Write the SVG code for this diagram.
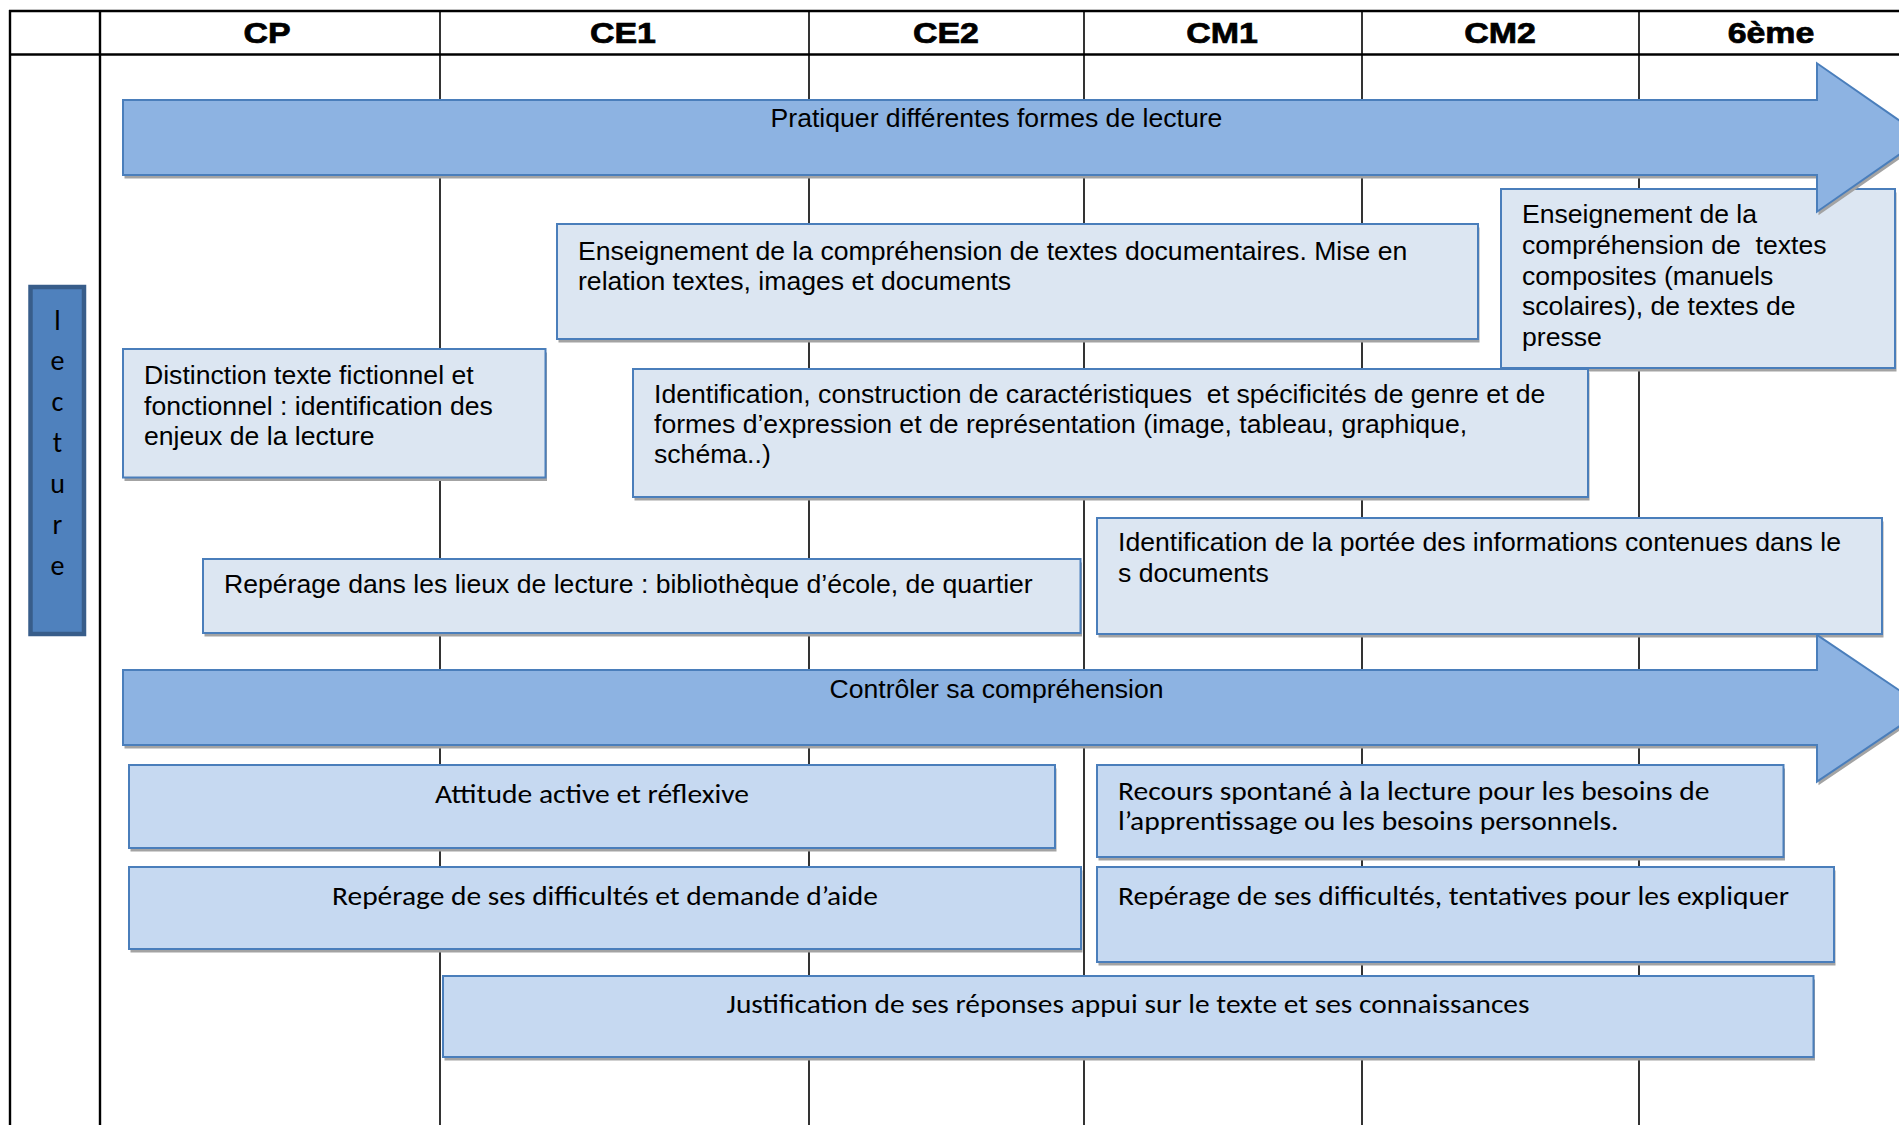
<svg xmlns="http://www.w3.org/2000/svg" width="1899" height="1125" viewBox="0 0 1899 1125">
<style>
.gl{stroke:#000;stroke-width:1.6;fill:none}
.gb{stroke:#000;stroke-width:2.4;fill:none}
.hd{font-family:"Liberation Sans",Arial,sans-serif;font-weight:bold;font-size:29px;text-anchor:middle;fill:#000;stroke:#000;stroke-width:0.7}
.up{fill:#DCE6F2;stroke:#4A7EBB;stroke-width:2}
.lo{fill:#C6D9F1;stroke:#4A7EBB;stroke-width:2}
.arr{fill:#8DB3E2;stroke:#4A7EBB;stroke-width:2;stroke-linejoin:miter}
.sh{fill:#A3A3A3}
.t{font-family:"Liberation Sans",Arial,sans-serif;font-size:26.6px;fill:#000;white-space:pre}
.tm{text-anchor:middle}
.c{font-family:Carlito,Lato,"Open Sans",sans-serif;font-size:27px;fill:#000;white-space:pre}
.lec{font-family:Carlito,Lato,"Open Sans",sans-serif;font-size:28px;fill:#000;text-anchor:middle}
</style>

<g id="grid">
  <line class="gb" x1="9" y1="11" x2="1899" y2="11"/>
  <line class="gb" x1="9" y1="54.5" x2="1899" y2="54.5"/>
  <line class="gb" x1="10" y1="10" x2="10" y2="1125"/>
  <line class="gb" x1="100" y1="10" x2="100" y2="1125"/>
  <line class="gl" x1="440" y1="10" x2="440" y2="1125"/>
  <line class="gl" x1="809" y1="10" x2="809" y2="1125"/>
  <line class="gl" x1="1084" y1="10" x2="1084" y2="1125"/>
  <line class="gl" x1="1362" y1="10" x2="1362" y2="1125"/>
  <line class="gl" x1="1639" y1="10" x2="1639" y2="1125"/>
</g>

<g id="headers">
  <text class="hd" transform="translate(267,43) scale(1.17,1)">CP</text>
  <text class="hd" transform="translate(623,43) scale(1.17,1)">CE1</text>
  <text class="hd" transform="translate(946,43) scale(1.17,1)">CE2</text>
  <text class="hd" transform="translate(1222,43) scale(1.17,1)">CM1</text>
  <text class="hd" transform="translate(1500,43) scale(1.17,1)">CM2</text>
  <text class="hd" transform="translate(1771,43) scale(1.17,1)">6ème</text>
</g>

<g id="lecture">
  <rect x="30.5" y="287" width="53.5" height="347" fill="#4F81BD" stroke="#385D8A" stroke-width="4.5"/>
  <text class="lec" x="57.5" y="330">l</text>
  <text class="lec" x="57.5" y="370">e</text>
  <text class="lec" x="57.5" y="411">c</text>
  <text class="lec" x="57.5" y="452">t</text>
  <text class="lec" x="57.5" y="493">u</text>
  <text class="lec" x="57.5" y="534">r</text>
  <text class="lec" x="57.5" y="575">e</text>
</g>

<g id="box-documentaires">
  <rect class="sh" x="558.5" y="227.5" width="921" height="115"/>
  <rect class="up" x="557" y="224" width="921" height="115"/>
  <text class="t" x="578" y="260">Enseignement de la compréhension de textes documentaires. Mise en</text>
  <text class="t" x="578" y="290">relation textes, images et documents</text>
</g>

<g id="box-composites">
  <rect class="sh" x="1502.5" y="192.5" width="394" height="179"/>
  <rect class="up" x="1501" y="189" width="394" height="179"/>
  <text class="t" x="1522" y="223">Enseignement de la</text>
  <text class="t" x="1522" y="254">compréhension de  textes</text>
  <text class="t" x="1522" y="284.5">composites (manuels</text>
  <text class="t" x="1522" y="315">scolaires), de textes de</text>
  <text class="t" x="1522" y="345.5">presse</text>
</g>

<g id="box-distinction">
  <rect class="sh" x="124.5" y="352.5" width="422.5" height="128.5"/>
  <rect class="up" x="123" y="349" width="422.5" height="128.5"/>
  <text class="t" x="144" y="384.3">Distinction texte fictionnel et</text>
  <text class="t" x="144" y="414.8">fonctionnel : identification des</text>
  <text class="t" x="144" y="445.3">enjeux de la lecture</text>
</g>

<g id="box-identification-genre">
  <rect class="sh" x="634.5" y="372.5" width="955" height="128"/>
  <rect class="up" x="633" y="369" width="955" height="128"/>
  <text class="t" x="654" y="402.7">Identification, construction de caractéristiques  et spécificités de genre et de</text>
  <text class="t" x="654" y="433">formes d’expression et de représentation (image, tableau, graphique,</text>
  <text class="t" x="654" y="463.3">schéma..)</text>
</g>

<g id="box-lieux">
  <rect class="sh" x="204.5" y="562.5" width="877.5" height="74"/>
  <rect class="up" x="203" y="559" width="877.5" height="74"/>
  <text class="t" x="224" y="593">Repérage dans les lieux de lecture : bibliothèque d’école, de quartier</text>
</g>

<g id="box-portee">
  <rect class="sh" x="1098.5" y="521.5" width="785" height="116"/>
  <rect class="up" x="1097" y="518" width="785" height="116"/>
  <text class="t" x="1118" y="551">Identification de la portée des informations contenues dans le</text>
  <text class="t" x="1118" y="581.5">s documents</text>
</g>

<g id="box-attitude">
  <rect class="sh" x="130.5" y="768.5" width="926" height="83"/>
  <rect class="lo" x="129" y="765" width="926" height="83"/>
  <text class="c tm" x="592" y="802.7" textLength="314" lengthAdjust="spacingAndGlyphs">Attitude active et réflexive</text>
</g>

<g id="box-reperage-aide">
  <rect class="sh" x="130.5" y="870.5" width="952" height="82"/>
  <rect class="lo" x="129" y="867" width="952" height="82"/>
  <text class="c tm" x="605" y="905" textLength="546" lengthAdjust="spacingAndGlyphs">Repérage de ses difficultés et demande d’aide</text>
</g>

<g id="box-justification">
  <rect class="sh" x="444.5" y="979.5" width="1370.5" height="81"/>
  <rect class="lo" x="443" y="976" width="1370.5" height="81"/>
  <text class="c tm" x="1128" y="1013" textLength="803" lengthAdjust="spacingAndGlyphs">Justification de ses réponses appui sur le texte et ses connaissances</text>
</g>

<g id="box-recours">
  <rect class="sh" x="1098.5" y="768.5" width="686.5" height="92"/>
  <rect class="lo" x="1097" y="765" width="686.5" height="92"/>
  <text class="c" x="1118" y="800" textLength="591.5" lengthAdjust="spacingAndGlyphs">Recours spontané à la lecture pour les besoins de</text>
  <text class="c" x="1118" y="830" textLength="500.5" lengthAdjust="spacingAndGlyphs">l’apprentissage ou les besoins personnels.</text>
</g>

<g id="box-reperage-expliquer">
  <rect class="sh" x="1098.5" y="870.5" width="737" height="95"/>
  <rect class="lo" x="1097" y="867" width="737" height="95"/>
  <text class="c" x="1118" y="905" textLength="671" lengthAdjust="spacingAndGlyphs">Repérage de ses difficultés, tentatives pour les expliquer</text>
</g>

<g id="arrow-pratiquer">
  <polygon class="sh" points="124.5,103.5 1818.5,103.5 1818.5,66.8 1925.5,141 1818.5,215.2 1818.5,178.5 124.5,178.5"/>
  <polygon class="arr" points="123,100 1817,100 1817,63.3 1924,137.5 1817,211.7 1817,175 123,175"/>
  <text class="t tm" x="996.5" y="126.7">Pratiquer différentes formes de lecture</text>
</g>

<g id="arrow-controler">
  <polygon class="sh" points="124.5,673.5 1818.5,673.5 1818.5,638.5 1927.5,711.8 1818.5,785.2 1818.5,748.5 124.5,748.5"/>
  <polygon class="arr" points="123,670 1817,670 1817,635 1926,708.3 1817,781.7 1817,745 123,745"/>
  <text class="t tm" x="996.5" y="698.4">Contrôler sa compréhension</text>
</g>
</svg>
